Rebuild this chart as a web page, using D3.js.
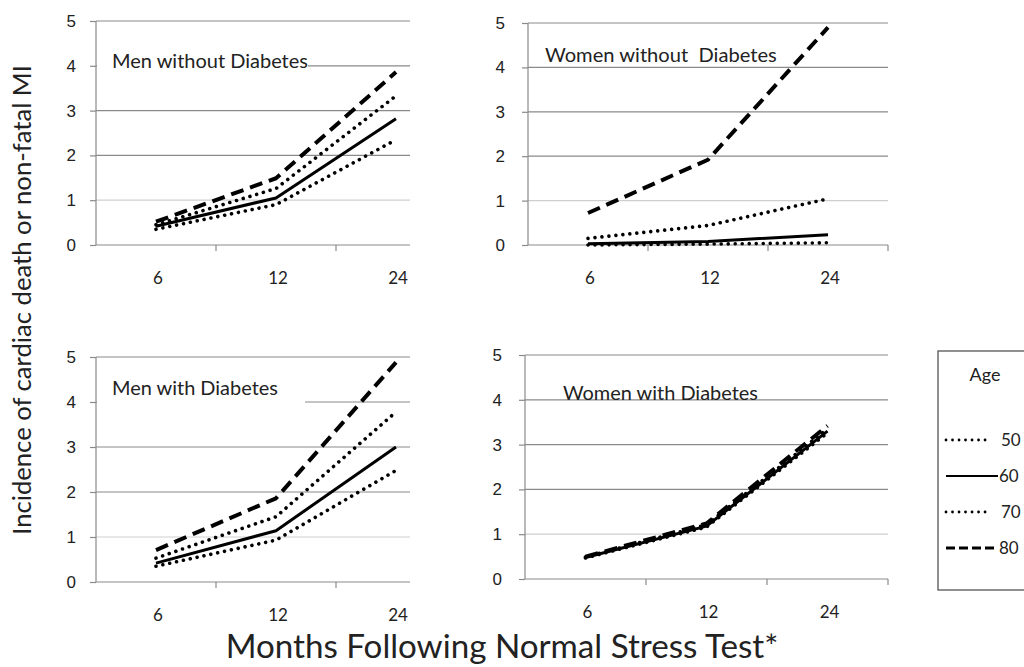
<!DOCTYPE html>
<html>
<head>
<meta charset="UTF-8">
<title>Incidence by age</title>
<script src="https://d3js.org/d3.v7.min.js"></script>
<style>
  body { margin: 0; background: #fff; }
  svg { display: block; font-family: Lato, "Open Sans", sans-serif; }
  .grid line { stroke: #8a8a8a; stroke-width: 1.2; }
  .axis path, .axis line { stroke: #8a8a8a; stroke-width: 1.2; }
  .axis text { fill: #222; font-size: 17px; }
</style>
</head>
<body>
<svg id="chart" width="1024" height="667"></svg>
<script>
// data
const months = ["6", "12", "24"];
const ages = ["50", "60", "70", "80"];
const yTicks = [0, 1, 2, 3, 4, 5];

// one row per age group (50, 60, 70, 80), values at 6 / 12 / 24 months
const menWithout   = [[0.35, 0.90, 2.35], [0.42, 1.05, 2.82], [0.45, 1.26, 3.33], [0.52, 1.49, 3.86]];
const womenWithout = [[0.00, 0.02, 0.05], [0.03, 0.08, 0.23], [0.15, 0.44, 1.04], [0.72, 1.92, 4.90]];
const menWith      = [[0.35, 0.93, 2.48], [0.42, 1.14, 3.00], [0.53, 1.45, 3.78], [0.71, 1.86, 4.88]];
const womenWith    = [[0.47, 1.16, 3.26], [0.48, 1.18, 3.30], [0.49, 1.21, 3.35], [0.50, 1.24, 3.42]];

const panelNames = ["Men without Diabetes", "Women without  Diabetes", "Men with Diabetes", "Women with Diabetes"];
const panelData = [menWithout, womenWithout, menWith, womenWith];

// layout for each panel
const panels = [
  { x0: 96,  band: 120, right: 410, y0: 245, y5: 21,  tx: 112, tb: 68,  tw: 196, hide: 308, endTick: false },
  { x0: 528, band: 120, right: 888, y0: 245, y5: 23,  tx: 545, tb: 62,  tw: 232, hide: 0,   endTick: true },
  { x0: 96,  band: 120, right: 410, y0: 582, y5: 357, tx: 112, tb: 395, tw: 166, hide: 305, endTick: false },
  { x0: 525, band: 121, right: 888, y0: 579, y5: 355, tx: 563, tb: 400, tw: 195, hide: 0,   endTick: true }
];

const styles = [
  { w: 3.6, dash: "0.01 7", cap: "round" },
  { w: 3,   dash: null,     cap: "butt" },
  { w: 3.6, dash: "0.01 7", cap: "round" },
  { w: 4,   dash: "13 7",   cap: "butt" }
];

const svg = d3.select("#chart");

// shrink/grow a text element so it spans a given width
function fitText(t, width) {
  const size = parseFloat(t.style("font-size"));
  const len = t.node().getComputedTextLength();
  t.style("font-size", (size * width / len) + "px");
}

panels.forEach((p, i) => {
  const x = d3.scaleBand().domain(months).range([p.x0, p.x0 + 3 * p.band]);
  const y = d3.scaleLinear().domain([0, 5]).range([p.y0, p.y5]);
  const g = svg.append("g");

  // gridlines
  g.append("g").attr("class", "grid")
    .selectAll("line").data(yTicks.slice(1)).join("line")
    .attr("x1", p.x0).attr("x2", p.right)
    .attr("y1", d => y(d)).attr("y2", d => y(d))
    .style("stroke", d => d == 1 ? "#cfcfcf" : null);

  // y axis
  const ya = g.append("g").attr("class", "axis")
    .attr("transform", `translate(${p.x0},0)`)
    .call(d3.axisLeft(y).tickValues(yTicks).tickFormat(d3.format("d"))
      .tickSize(6).tickPadding(i % 2 ? 17 : 14).tickSizeOuter(0));
  ya.select(".domain").attr("d", `M0,${p.y0}V${p.y5}`);

  // x axis: ticks at band edges, labels at band centres
  const xa = g.append("g").attr("class", "axis");
  const edges = [p.x0 + p.band, p.x0 + 2 * p.band];
  if (p.endTick) edges.push(p.right);
  xa.append("line").attr("x1", p.x0).attr("x2", p.right).attr("y1", p.y0).attr("y2", p.y0);
  xa.selectAll(".tk").data(edges).join("line").attr("class", "tk")
    .attr("x1", d => d).attr("x2", d => d).attr("y1", p.y0).attr("y2", p.y0 + 6);
  xa.selectAll("text").data(months).join("text")
    .attr("x", d => x(d) + x.bandwidth() / 2 + 2)
    .attr("y", p.y0 + 39)
    .attr("text-anchor", "middle")
    .text(d => d);

  // panel title, with a white backing where it covers the gridline
  if (p.hide) {
    g.append("rect").attr("x", p.x0 + 1).attr("y", y(4) - 3)
      .attr("width", p.hide - p.x0 - 1).attr("height", 6).attr("fill", "#fff");
  }
  const t = g.append("text")
    .attr("x", p.tx).attr("y", p.tb)
    .style("font-size", "18px").style("white-space", "pre").attr("fill", "#222")
    .text(panelNames[i]);
  fitText(t, p.tw);

  // series
  const line = d3.line()
    .x((d, j) => x(months[j]) + x.bandwidth() / 2)
    .y(d => y(d));
  g.append("g").selectAll("path").data(panelData[i]).join("path")
    .attr("d", line)
    .attr("fill", "none")
    .attr("stroke", "#000")
    .attr("stroke-width", (d, k) => styles[k].w)
    .attr("stroke-dasharray", (d, k) => styles[k].dash)
    .attr("stroke-linecap", (d, k) => styles[k].cap)
    .attr("stroke-linejoin", "round");
});

// axis titles
const yt = svg.append("text")
  .attr("transform", "translate(31,300) rotate(-90)")
  .attr("text-anchor", "middle").style("font-size", "21px").attr("fill", "#222")
  .text("Incidence of cardiac death or non-fatal MI");
fitText(yt, 470);

const xt = svg.append("text")
  .attr("x", 502).attr("y", 658)
  .attr("text-anchor", "middle").style("font-size", "28px").attr("fill", "#222")
  .text("Months Following Normal Stress Test*");
fitText(xt, 553);

// legend
const lg = svg.append("g");
lg.append("rect").attr("x", 938).attr("y", 351).attr("width", 110).attr("height", 239)
  .attr("fill", "#fff").attr("stroke", "#555").attr("stroke-width", 1.3);
lg.append("text").attr("x", 985).attr("y", 381).attr("text-anchor", "middle")
  .style("font-size", "18px").attr("fill", "#222").text("Age");
const ly = d3.scalePoint().domain(ages).range([440, 548]);
ages.forEach((a, k) => {
  const s = styles[k];
  lg.append("line").attr("x1", 946).attr("x2", k == 0 || k == 2 ? 990 : 998)
    .attr("y1", ly(a)).attr("y2", ly(a))
    .attr("stroke", "#000").attr("stroke-width", s.w - 0.8)
    .attr("stroke-dasharray", s.dash ? (s.cap == "round" ? "0.01 6.5" : "9 4") : null)
    .attr("stroke-linecap", s.cap);
  lg.append("text").attr("x", k == 0 || k == 2 ? 1001 : 999).attr("y", ly(a) + 6)
    .style("font-size", "17px").attr("fill", "#222").text(a);
});
</script>
</body>
</html>
